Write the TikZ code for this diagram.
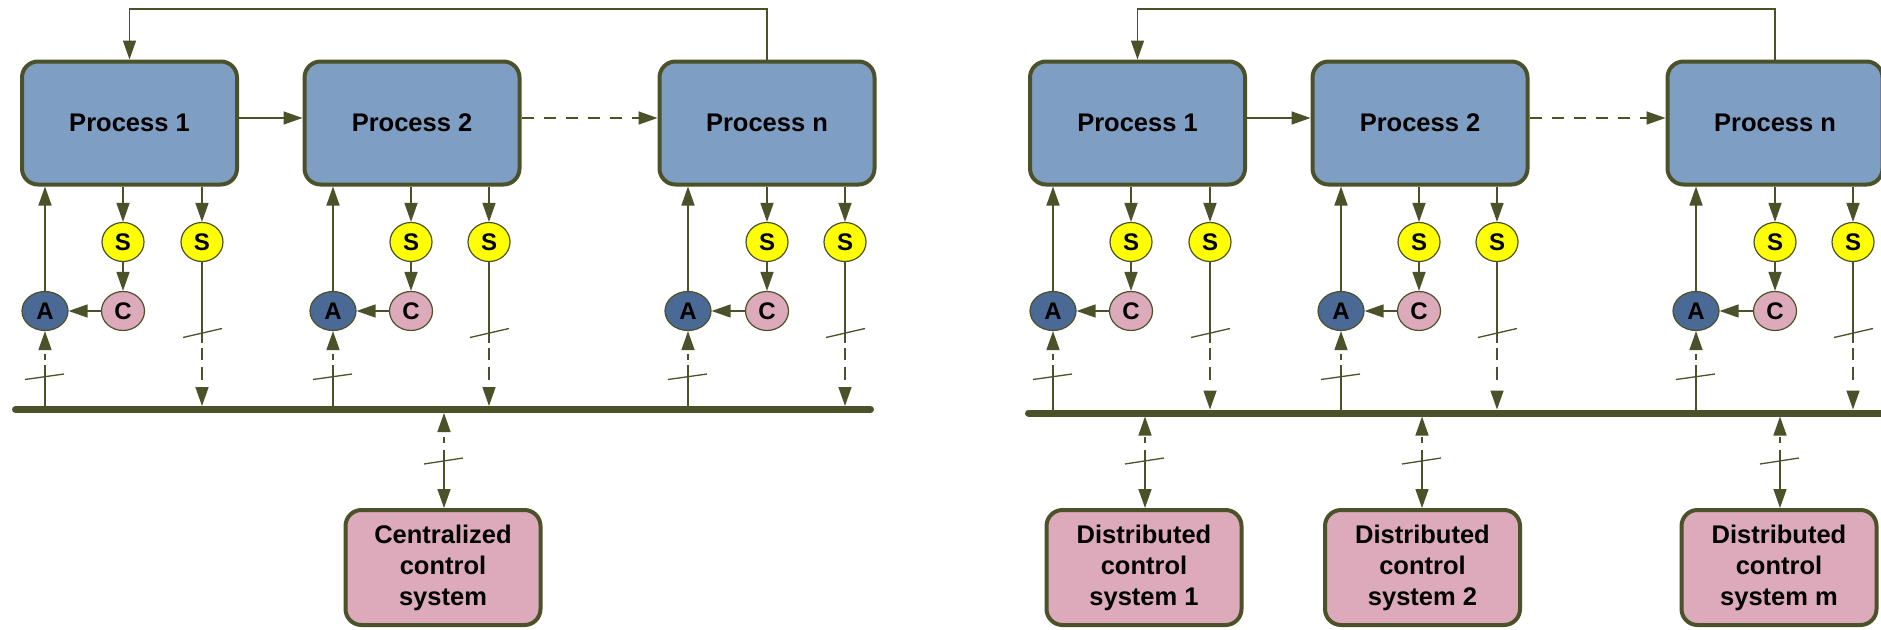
\documentclass[tikz,border=0pt]{standalone}
\usepackage{fontspec}
\setmainfont{Liberation Sans}
\usetikzlibrary{arrows.meta,shapes.geometric}

\definecolor{lineol}{HTML}{4B5229}
\definecolor{procfill}{HTML}{7F9EC3}
\definecolor{pinkfill}{HTML}{DCAABA}
\definecolor{actfill}{HTML}{4A6994}
\definecolor{sensfill}{HTML}{FFFF00}

% One process with its sensors, controller, actuator and bus links.
% #1 name, #2 box centre x, #3 actuator x, #4 first sensor x,
% #5 second sensor x, #6 label, #7 bus centre y
\newcommand\procunit[7]{%
  \node[procbox] (#1) at (#2,123) {#6};
  \node[sens] (#1s) at (#4,242) {S};
  \node[sens] (#1t) at (#5,242) {S};
  \node[ctrl] (#1c) at (#4,311) {C};
  \node[act]  (#1a) at (#3,311) {A};
  \coordinate (#1am) at (#3,365);
  \coordinate (#1ab) at (#3,#7);
  \coordinate (#1tm) at (#5,343);
  \coordinate (#1tb) at (#5,#7-3.5);
  \draw[conn,->] (#1.south -| #1s) -- (#1s);
  \draw[conn,->] (#1.south -| #1t) -- (#1t);
  \draw[conn,->] (#1s) -- (#1c);
  \draw[conn,->] (#1c) -- (#1a);
  \draw[conn,->] (#1a) -- (#1.south -| #1a);
  % bus -> actuator, broken link
  \draw[conn] (#1ab) -- (#1am);
  \draw[conn,->,dash pattern=on 0pt off 5pt on 6pt off 30pt] (#1am) -- (#1a);
  \draw[tick] ([shift={(-20,14.5)}]#1am) -- ([shift={(19,9)}]#1am);
  % second sensor -> bus, broken link
  \draw[conn] (#1t) -- (#1tm);
  \draw[conn,->,dash pattern=on 0pt off 5pt on 12pt off 7pt on 13pt off 30pt] (#1tm) -- (#1tb);
  \draw[tick] ([shift={(-19,-5.5)}]#1tm) -- ([shift={(20,-14.5)}]#1tm);
}

% The process chain of one plant, bus at height #1
\newcommand\plantrow[1]{%
  \coordinate (top) at (0,9);
  \procunit{P1}{129.5}{45}{123}{202}{Process 1}{#1}
  \procunit{P2}{412}{333}{411}{489}{Process 2}{#1}
  \procunit{Pn}{767}{688}{767}{845}{Process n}{#1}
  \draw[conn,->] ([yshift=5pt]P1.east) -- ([yshift=5pt]P2.west);
  \draw[conn,->,dash pattern=on 12pt off 10pt] ([yshift=5pt]P2.east) -- ([yshift=5pt]Pn.west);
  \draw[conn,->] (Pn.north) -- (Pn.north |- top) -| (P1.north);
}

% Bus <-> control system link: #1 mid point name, #2 x, #3 box name, #4 bus bottom y
\newcommand\ctllink[4]{%
  \coordinate (#1) at (#2,450);
  \draw[conn,->] (#1) -- (#1 |- #3.north);
  \draw[conn,->,dash pattern=on 0pt off 7pt on 6pt off 30pt] (#1) -- (#2,#4);
  \draw[tick] ([shift={(-20,14)}]#1) -- ([shift={(19,8)}]#1);
}

\begin{document}
\begin{tikzpicture}[x=1pt,y=-1pt,
  >={Triangle[length=19pt,width=13pt]},
  conn/.style={draw=lineol, line width=1.5pt},
  tick/.style={draw=lineol, line width=1.3pt},
  bus/.style={draw=lineol, line width=7pt, line cap=round},
  procbox/.style={draw=lineol, line width=4pt, fill=procfill,
    rounded corners=16pt, minimum width=215pt, minimum height=123pt,
    font=\fontsize{25.5}{31}\selectfont\bfseries},
  ctlbox/.style={draw=lineol, line width=4pt, fill=pinkfill,
    rounded corners=16pt, minimum width=195pt, minimum height=115pt,
    align=center, font=\fontsize{25.5}{31}\selectfont\bfseries},
  bubble/.style={ellipse, draw=lineol, line width=1.2pt, inner sep=0pt,
    minimum height=39pt, font=\fontsize{24}{24}\selectfont\bfseries},
  sens/.style={bubble, fill=sensfill, minimum width=42pt},
  ctrl/.style={bubble, fill=pinkfill, minimum width=43pt},
  act/.style={bubble, fill=actfill, minimum width=46pt},
]
\useasboundingbox[fill=white] (0,0) rectangle (1881,629);

% ---- centralized plant ----
\begin{scope}[name prefix=L-]
  \plantrow{409.5}
  \coordinate (busL) at (15.5,409.5);
  \coordinate (busR) at (870.5,409.5);
  \draw[bus] (busL) -- (busR);
\end{scope}
\node[ctlbox] (cc) at (443,567.5) {Centralized\\control\\system};
\ctllink{ccm}{444}{cc}{413}

% ---- distributed plant ----
\begin{scope}[xshift=1008pt, name prefix=R-]
  \plantrow{413}
  \coordinate (busL) at (20.5,413);
  \coordinate (busR) at (900,413);
  \draw[bus] (busL) -- (busR);
\end{scope}
\node[ctlbox] (d1) at (1144,567.5) {Distributed\\control\\system 1};
\node[ctlbox] (d2) at (1422.5,567.5) {Distributed\\control\\system 2};
\node[ctlbox] (dm) at (1779,567.5) {Distributed\\control\\system m};
\ctllink{d1m}{1145}{d1}{416.5}
\ctllink{d2m}{1422}{d2}{416.5}
\ctllink{dmm}{1780}{dm}{416.5}
\end{tikzpicture}
\end{document}
